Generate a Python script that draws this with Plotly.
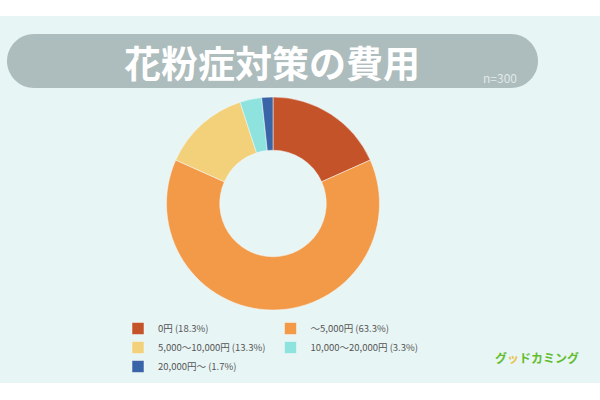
import plotly.graph_objects as go

categories = ["0円", "〜5,000円", "5,000〜10,000円", "10,000〜20,000円", "20,000円〜"]
values = [18.3, 63.3, 13.3, 3.3, 1.7]
colors = ["#c4532a", "#f29a48", "#f3d17a", "#8fe3df", "#3a64a8"]
title_text = "花粉症対策の費用"
sample_text = "n=300"

labels = [f"{c} ({v}%)" for c, v in zip(categories, values)]

W, H = 600, 400
ML, MR, MT, MB = 100, 100, 0, 0
PW, PH = W - ML - MR, H - MT - MB


def px(x):
    return (x - ML) / PW


def py(y):
    return 1 - (y - MT) / PH


font = "Noto Sans CJK JP"

fig = go.Figure()
fig.add_trace(go.Pie(
    labels=labels,
    values=values,
    hole=0.5,
    sort=False,
    direction="clockwise",
    rotation=0,
    textinfo="none",
    hoverinfo="label",
    marker=dict(colors=colors, line=dict(color="#f4f9f9", width=0.5)),
    domain=dict(x=[px(166), px(380)], y=[py(310), py(97)]),
))

fig.update_layout(
    width=W, height=H,
    margin=dict(l=ML, r=MR, t=MT, b=MB, pad=0, autoexpand=False),
    paper_bgcolor="white",
    plot_bgcolor="white",
    font=dict(family=font, color="#555555"),
    showlegend=True,
    legend=dict(
        orientation="h",
        x=px(118), y=py(314), xanchor="left", yanchor="top",
        font=dict(size=9.5, color="#555555", family=font),
        bgcolor="rgba(0,0,0,0)",
        traceorder="normal",
    ),
)

# light background band
fig.add_shape(type="rect", xref="paper", yref="paper", x0=px(0), x1=px(600),
              y0=py(383), y1=py(16), fillcolor="#e8f5f5", line=dict(width=0), layer="below")

# pill-shaped title background
x0, x1, y0, y1 = 7, 538, 34, 88
r = (y1 - y0) / 2
k = 0.5523 * r
pill = (f"M {px(x0 + r)},{py(y0)} L {px(x1 - r)},{py(y0)} "
        f"C {px(x1 - r + k)},{py(y0)} {px(x1)},{py(y0 + r - k)} {px(x1)},{py(y0 + r)} "
        f"C {px(x1)},{py(y0 + r + k)} {px(x1 - r + k)},{py(y1)} {px(x1 - r)},{py(y1)} "
        f"L {px(x0 + r)},{py(y1)} "
        f"C {px(x0 + r - k)},{py(y1)} {px(x0)},{py(y0 + r + k)} {px(x0)},{py(y0 + r)} "
        f"C {px(x0)},{py(y0 + r - k)} {px(x0 + r - k)},{py(y0)} {px(x0 + r)},{py(y0)} Z")
fig.add_shape(type="path", xref="paper", yref="paper", path=pill,
              fillcolor="#adbcbc", line=dict(width=0), layer="below")

fig.add_annotation(x=px(272), y=py(62), xref="paper", yref="paper",
                   xanchor="center", yanchor="middle",
                   text=f"<b>{title_text}</b>", showarrow=False,
                   font=dict(size=37, color="white", family=font))
fig.add_annotation(x=px(500), y=py(77), xref="paper", yref="paper",
                   xanchor="center", yanchor="middle",
                   text=sample_text, showarrow=False,
                   font=dict(size=12, color="#e2e9e9", family=font))
fig.add_annotation(x=px(537), y=py(357), xref="paper", yref="paper",
                   xanchor="center", yanchor="middle",
                   text="<b>グ<span style='color:#e8c34a'>ッ</span>ドカミング</b>",
                   showarrow=False,
                   font=dict(size=12, color="#62bd2e", family=font))

fig.write_html(
    "out.html",
    config={"displayModeBar": False},
    post_script="document.body.style.margin='0px';document.body.style.overflow='hidden';",
)
